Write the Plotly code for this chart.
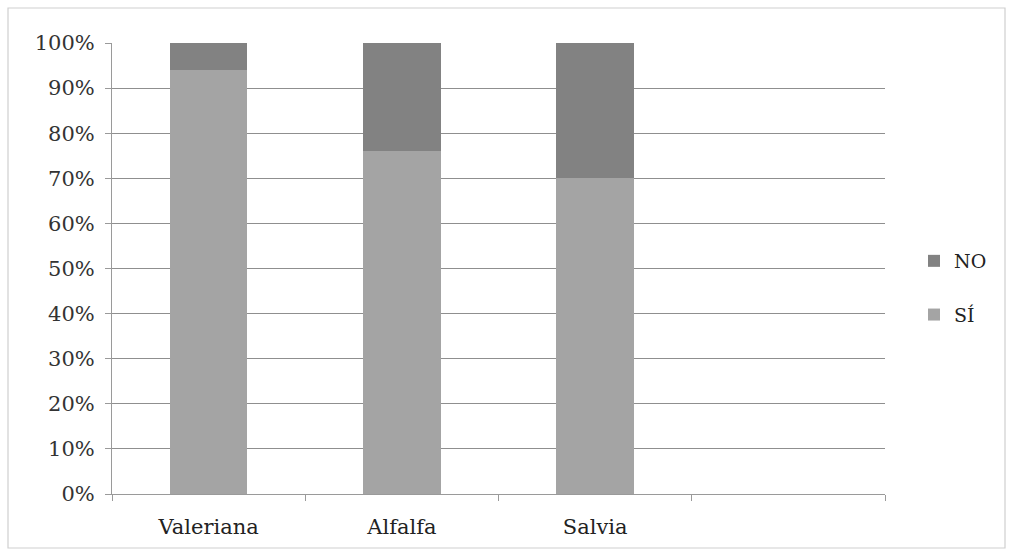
import plotly.graph_objects as go

# Plant names (fourth slot left empty on the axis)
categories = ["Valeriana", "Alfalfa", "Salvia", " "]
si_values = [94, 76, 70, None]
no_values = [6, 24, 30, None]
y_ticks = [0, 10, 20, 30, 40, 50, 60, 70, 80, 90, 100]
y_tick_labels = [f"{v}%" for v in y_ticks]

FONT = "DejaVu Serif"
W, H = 1013, 554
L, R, T, B = 112, 128, 43, 60
pw, ph = W - L - R, H - T - B

fig = go.Figure()
fig.add_trace(go.Bar(
    x=categories, y=si_values, name="SÍ", legendgroup="si", legendrank=2,
    marker=dict(color="#a4a4a4", line=dict(width=0)),
))
fig.add_trace(go.Bar(
    x=categories, y=no_values, name="NO", legendgroup="no", legendrank=1,
    marker=dict(color="#828282", line=dict(width=0)),
))

# light frame around the whole chart
fig.add_shape(
    type="rect", xref="paper", yref="paper",
    x0=(8 - L) / pw, x1=(1005 - L) / pw,
    y0=(H - B - 548) / ph, y1=(H - B - 8) / ph,
    line=dict(color="#cfcfcf", width=1.2), fillcolor="rgba(0,0,0,0)", layer="below",
)

fig.update_layout(
    width=W, height=H,
    margin=dict(l=L, r=R, t=T, b=B, autoexpand=False),
    barmode="stack", barnorm="percent", bargap=0.6,
    plot_bgcolor="white", paper_bgcolor="white",
    font=dict(family=FONT, size=20, color="#333333"),
    showlegend=True,
    legend=dict(
        x=(914 - L) / pw, xanchor="left",
        y=(H - B - 288) / ph, yanchor="middle",
        traceorder="grouped", tracegroupgap=26,
        font=dict(family=FONT, size=19, color="#222222"),
        itemwidth=30, bgcolor="rgba(0,0,0,0)",
    ),
    xaxis=dict(
        type="category", showgrid=False,
        showline=True, linecolor="#9a9a9a", linewidth=1,
        ticks="outside", tickson="boundaries", ticklen=6, tickcolor="#9a9a9a",
        ticklabelstandoff=14,
        tickfont=dict(family=FONT, size=21, color="#222222"),
    ),
    yaxis=dict(
        range=[0, 100], tickvals=y_ticks, ticktext=y_tick_labels,
        showgrid=True, gridcolor="#8f8f8f", gridwidth=1,
        showline=True, linecolor="#9a9a9a", linewidth=1,
        ticks="outside", ticklen=6, tickcolor="#9a9a9a",
        ticklabelstandoff=6,
        zeroline=False,
        tickfont=dict(family=FONT, size=21, color="#333333"),
    ),
)

fig.write_html("out.html")
